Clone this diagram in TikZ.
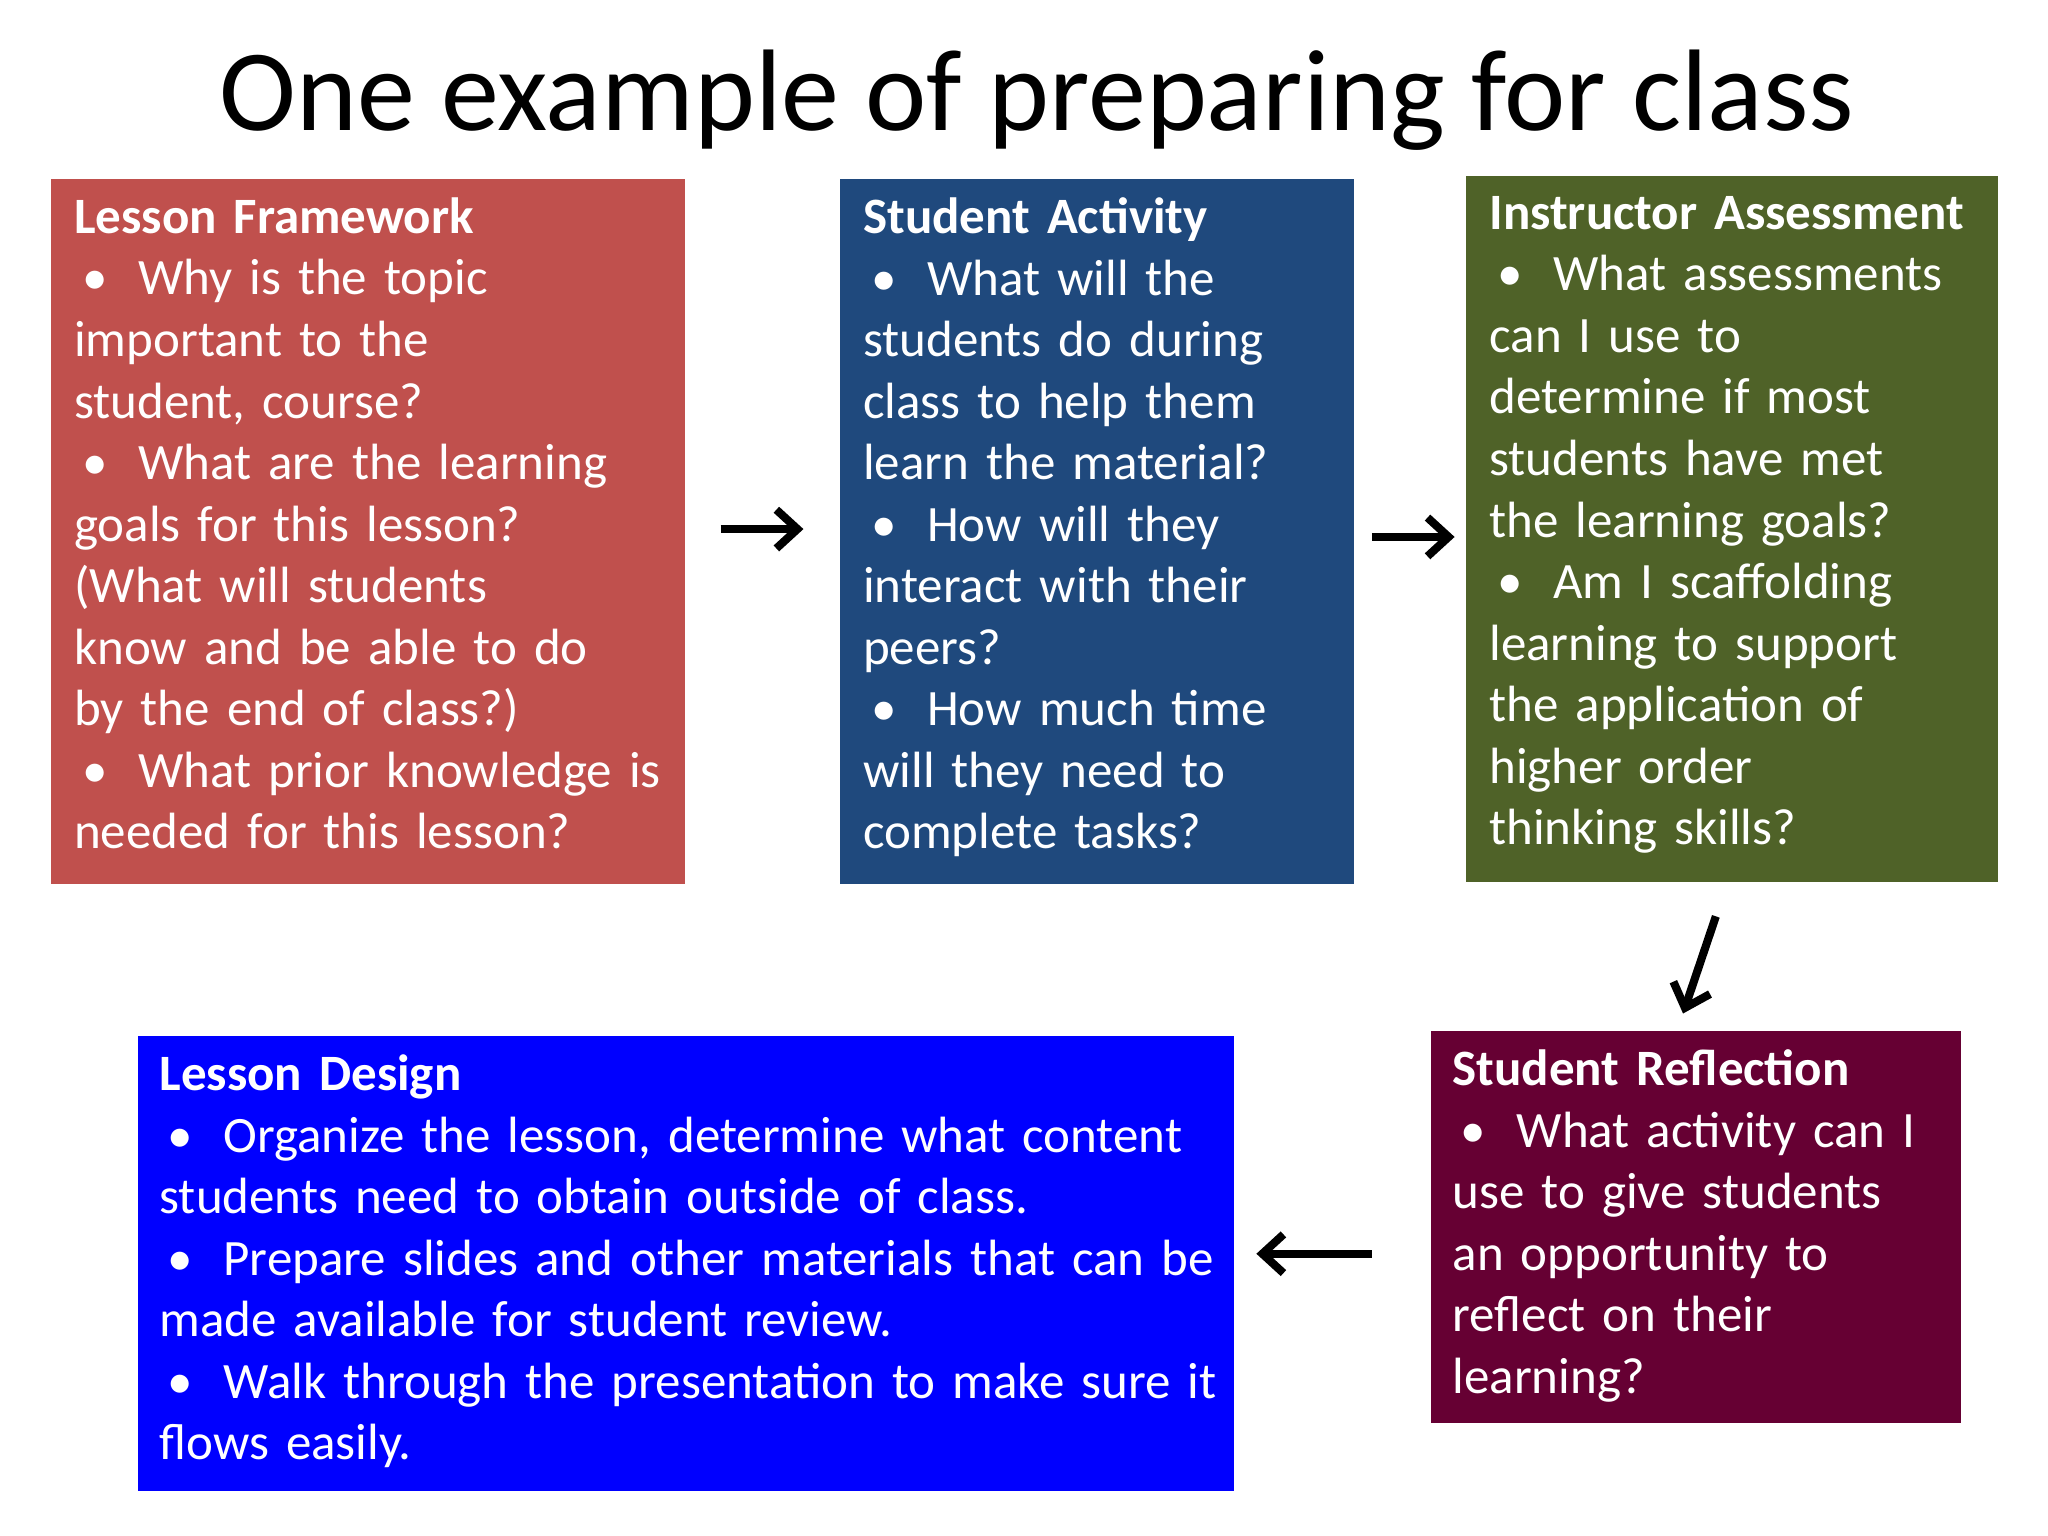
\documentclass[tikz,border=0pt]{standalone}
\usepackage{fontspec}
\setmainfont{Carlito}
\usetikzlibrary{arrows.meta}
\definecolor{cred}{HTML}{C0504D}
\definecolor{cdblue}{HTML}{1F497D}
\definecolor{cgreen}{HTML}{4F6228}
\definecolor{cmaroon}{HTML}{660033}
\definecolor{cblue}{HTML}{0000FF}
\newcommand{\bitem}[1]{\par\noindent\hangindent=0.64cm\hangafter=1\makebox[0.64cm][l]{\hspace{0.08cm}•}#1}
\tikzset{
 card/.style={fill=#1,draw=none},
 txt/.style={anchor=north west,inner sep=0pt,text=white,font=\fontsize{14.5}{17.5}\selectfont,text width=7cm,align=left},
 flow/.style={line width=2.3pt,-{Straight Barb[length=6pt,width=11pt,line width=2.3pt]}}
}
\begin{document}
\begin{tikzpicture}[x=0.01313cm,y=-0.01313cm]
\useasboundingbox (0,0) rectangle (1560,1170);
\node[font=\fontsize{33}{40}\selectfont] (title) at (790,76) {One example of preparing for class};
\fill[card=cred] (39,136) rectangle (522,673);
\fill[card=cdblue] (640,136) rectangle (1031,673);
\fill[card=cgreen] (1117,134) rectangle (1522,672);
\fill[card=cmaroon] (1090,785) rectangle (1494,1084);
\fill[card=cblue] (105,789) rectangle (940,1136);
\node[txt] (t1) at (56,150) {\textbf{Lesson Framework}
\bitem{Why is the topic\\important to the\\student, course?}
\bitem{What are the learning\\goals for this lesson?\\(What will students\\know and be able to do\\by the end of class?)}
\bitem{What prior knowledge is\\needed for this lesson?}};
\node[txt] (t2) at (657,150) {\textbf{Student Activity}
\bitem{What will the\\students do during\\class to help them\\learn the material?}
\bitem{How will they\\interact with their\\peers?}
\bitem{How much time\\will they need to\\complete tasks?}};
\node[txt] (t3) at (1134,149) {\textbf{Instructor Assessment}
\bitem{What assessments\\can I use to\\determine if most\\students have met\\the learning goals?}
\bitem{Am I scaffolding\\learning to support\\the application of\\higher order\\thinking skills?}};
\node[txt] (t4) at (1106,799) {\textbf{Student Reflection}
\bitem{What activity can I\\use to give students\\an opportunity to\\reflect on their\\learning?}};
\node[txt,text width=11cm] (t5) at (121,803) {\textbf{Lesson Design}
\bitem{Organize the lesson, determine what content\\students need to obtain outside of class.}
\bitem{Prepare slides and other materials that can be\\made available for student review.}
\bitem{Walk through the presentation to make sure it\\flows easily.}};
\coordinate (a1s) at (549,403); \coordinate (a1e) at (612,403);
\coordinate (a2s) at (1045,409); \coordinate (a2e) at (1108,409);
\coordinate (a3s) at (1307,698); \coordinate (a3e) at (1282,772);
\coordinate (a4s) at (1045,955); \coordinate (a4e) at (957,955);
\draw[flow] (a1s) -- (a1e);
\draw[flow] (a2s) -- (a2e);
\draw[flow] (a3s) -- (a3e);
\draw[flow] (a4s) -- (a4e);
\end{tikzpicture}
\end{document}
